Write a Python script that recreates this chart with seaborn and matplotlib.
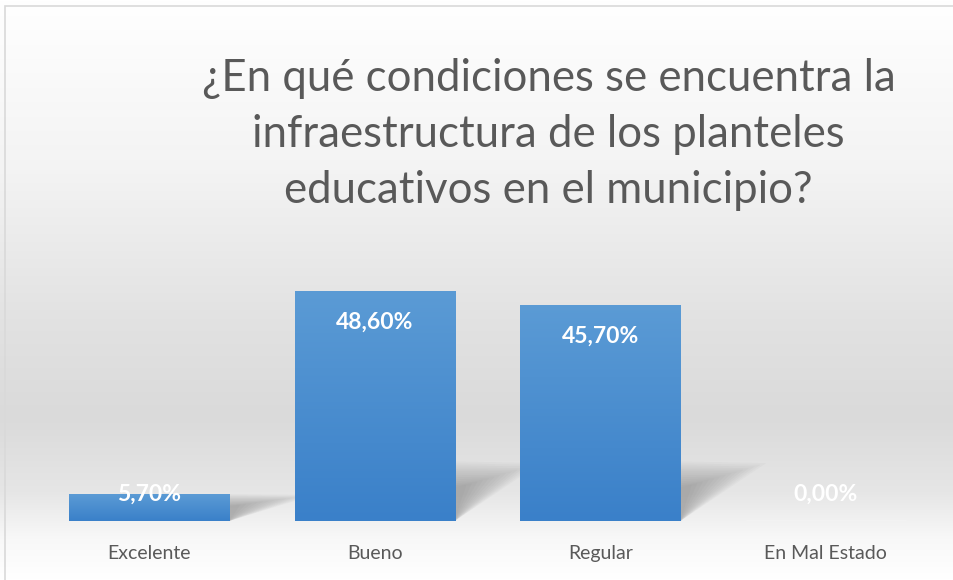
# %% Imports

import matplotlib.pyplot as plt
import numpy as np
import pandas as pd
import seaborn as sns
from matplotlib.colors import LinearSegmentedColormap
from matplotlib.patches import Rectangle

# %% Data

CATEGORIES = ["Excelente", "Bueno", "Regular", "En Mal Estado"]
PERCENTS = [5.70, 48.60, 45.70, 0.00]
VALUE_LABELS = ["5,70%", "48,60%", "45,70%", "0,00%"]
TITLE = "¿En qué condiciones se encuentra la\ninfraestructura de los planteles\neducativos en el municipio?"

df = pd.DataFrame({"Condicion": CATEGORIES, "Porcentaje": PERCENTS})

# %% Plot

sns.set_style("white")
plt.rcParams["font.family"] = ["Lato", "DejaVu Sans"]

fig = plt.figure(figsize=(9.54, 5.8), dpi=100)

# background gradient (white -> light grey -> white)
bg = fig.add_axes([0, 0, 1, 1], zorder=-10)
stops = [(0.0, "#ffffff"), (0.30, "#f3f3f3"), (0.55, "#e2e2e2"),
         (0.72, "#dadada"), (0.85, "#e6e6e6"), (0.93, "#f8f8f8"), (1.0, "#ffffff")]
bg_cmap = LinearSegmentedColormap.from_list("bg", stops)
bg.imshow(np.linspace(0, 1, 256).reshape(-1, 1), cmap=bg_cmap, aspect="auto",
          extent=[0, 1, 0, 1], origin="upper")
bg.add_patch(Rectangle((0.0055, -0.01), 1.1, 0.999, fill=False,
                       edgecolor="#d9d9d9", linewidth=1.2, transform=bg.transAxes))
bg.set_xlim(0, 1)
bg.set_ylim(0, 1)
bg.axis("off")

ax = fig.add_axes([0.038, 0.1017, 0.946, 0.441])
sns.barplot(data=df, x="Condicion", y="Porcentaje", color="#4a8ad0",
            width=0.71, ax=ax, saturation=1)
ax.patch.set_alpha(0)

# gradient fill for bars + soft shadow behind them
bar_cmap = LinearSegmentedColormap.from_list("bar", ["#3a80c9", "#5b9bd5"])
for bar in ax.patches:
    x0, w, h = bar.get_x(), bar.get_width(), bar.get_height()
    if h <= 0:
        continue
    x1 = x0 + w
    sh = min(h, 12.6)
    for k in range(14):
        f = 1 - k / 15
        tri = plt.Polygon(
            [(x1, 0), (x1, sh * (0.5 + 0.5 * f)),
             (x1 + 0.38 * f, sh * (0.55 + 0.42 * f))],
            closed=True, facecolor="#4d4d4d", edgecolor="none", alpha=0.03, zorder=1)
        ax.add_patch(tri)
    bar.set_zorder(2)
    bar.set_edgecolor("none")
    im = ax.imshow(np.linspace(0, 1, 128).reshape(-1, 1), cmap=bar_cmap,
                   aspect="auto", extent=[x0, x1, 0, h], origin="lower",
                   zorder=3)
    im.set_clip_path(bar)
ax.set_xlim(-0.5, 3.5)
ax.set_ylim(0, 54)

# value labels, inside end of each bar
for i, (v, lab) in enumerate(zip(PERCENTS, VALUE_LABELS)):
    y = max(v - 6.7, 5.6)
    ax.text(i, y, lab, ha="center", va="center", color="white",
            fontsize=16.5, fontweight="bold", zorder=5)

ax.set_xlabel("")
ax.set_ylabel("")
ax.set_yticks([])
ax.tick_params(axis="x", length=0, labelsize=14, labelcolor="#595959", pad=17)
sns.despine(ax=ax, left=True, bottom=True)

fig.text(0.575, 0.768, TITLE, ha="center", va="center", fontsize=31.5,
         color="#595959", linespacing=1.45)

fig.savefig("out.png", dpi=100)
